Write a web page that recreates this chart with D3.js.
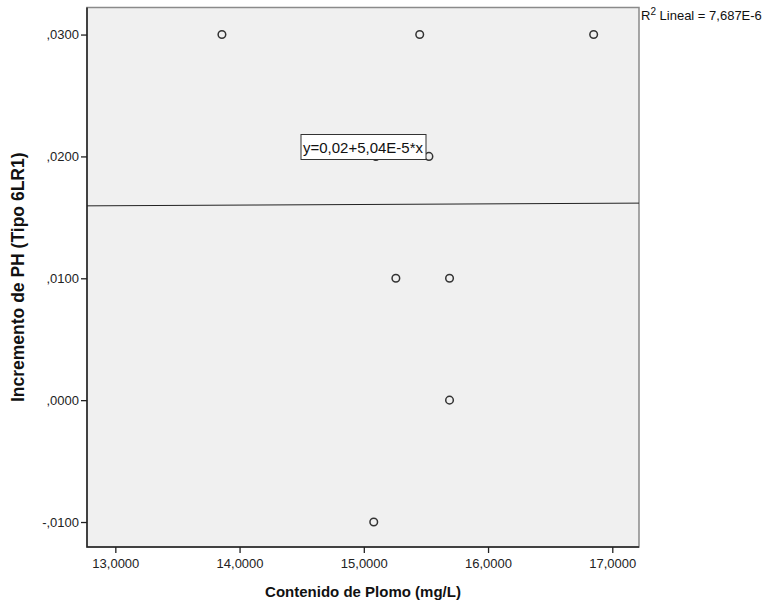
<!DOCTYPE html>
<html>
<head>
<meta charset="utf-8">
<script src="https://cdn.jsdelivr.net/npm/d3@7"></script>
<style>
  body { margin: 0; background: #fff; }
  text { font-family: Arial, "Liberation Sans", sans-serif; }
</style>
</head>
<body>
<svg id="chart" width="764" height="603"></svg>
<script>
const plomo = [13.858, 15.45, 16.85, 15.097, 15.524, 15.258, 15.69, 15.69, 15.08];
const incremento = [0.03, 0.03, 0.03, 0.02, 0.02, 0.01, 0.01, 0.0, -0.01];
const xTicks = [13, 14, 15, 16, 17];
const yTicks = [-0.01, 0, 0.01, 0.02, 0.03];
const fitIntercept = 0.0153;
const fitSlope = 5.04e-5;
const fitLabel = 'y=0,02+5,04E-5*x';
const r2Label = ' Lineal = 7,687E-6';

const svg = d3.select('#chart');
const plotLeft = 87, plotRight = 639, plotTop = 7.5, plotBottom = 547;

const x = d3.scaleLinear().domain([12.772, 17.215]).range([plotLeft, plotRight]);
const y = d3.scaleLinear().domain([-0.01205, 0.03222]).range([plotBottom, plotTop]);

const fmtX = d => d.toFixed(4).replace('.', ',');
const fmtY = d => d.toFixed(4).replace('.', ',').replace(/^(-?)0,/, '$1,');

svg.append('rect')
    .attr('x', plotLeft).attr('y', plotTop)
    .attr('width', plotRight - plotLeft).attr('height', plotBottom - plotTop)
    .attr('fill', '#f0f0f0')
    .attr('stroke', '#8a8a8a').attr('stroke-width', 1.5);

// darker left/bottom axis lines
svg.append('path')
    .attr('d', `M${plotLeft} ${plotTop} V${plotBottom} H${plotRight}`)
    .attr('fill', 'none').attr('stroke', '#222').attr('stroke-width', 1.5);

const gx = svg.append('g').attr('transform', `translate(0,${plotBottom})`)
    .call(d3.axisBottom(x).tickValues(xTicks).tickFormat(fmtX).tickSize(6).tickPadding(6));
const gy = svg.append('g').attr('transform', `translate(${plotLeft},0)`)
    .call(d3.axisLeft(y).tickValues(yTicks).tickFormat(fmtY).tickSize(6).tickPadding(2));
[gx, gy].forEach(g => {
    g.select('.domain').remove();
    g.selectAll('.tick line').attr('stroke', '#222').attr('stroke-width', 1.3);
    g.selectAll('.tick text').attr('fill', '#222').style('font-size', '13px')
        .style('font-family', 'Arial, "Liberation Sans", sans-serif');
});

// regression line
const x0 = x.domain()[0], x1 = x.domain()[1];
svg.append('line')
    .attr('x1', x(x0)).attr('y1', y(fitIntercept + fitSlope * x0))
    .attr('x2', x(x1)).attr('y2', y(fitIntercept + fitSlope * x1))
    .attr('stroke', '#222').attr('stroke-width', 1);

// points
svg.append('g').selectAll('circle')
    .data(plomo.map((p, i) => ({ p, v: incremento[i] })))
    .join('circle')
    .attr('cx', d => x(d.p)).attr('cy', d => y(d.v)).attr('r', 3.8)
    .attr('fill', 'none').attr('stroke', '#333').attr('stroke-width', 1.5);

// equation label box
const lab = svg.append('g').attr('transform', 'translate(301,134.5)');
lab.append('rect').attr('width', 125).attr('height', 25)
    .attr('fill', '#fff').attr('stroke', '#333').attr('stroke-width', 1);
lab.append('text').attr('x', 2).attr('y', 18)
    .attr('textLength', 120).attr('lengthAdjust', 'spacingAndGlyphs')
    .style('font-size', '14.5px').attr('fill', '#111').text(fitLabel);

// R2 legend
const r2 = svg.append('text').attr('x', 641).attr('y', 20)
    .style('font-size', '13px').attr('fill', '#111');
r2.append('tspan').text('R');
r2.append('tspan').attr('dy', -5).style('font-size', '10px').text('2');
r2.append('tspan').attr('dy', 5).text(r2Label);

// axis titles
svg.append('text').attr('x', (plotLeft + plotRight) / 2).attr('y', 597)
    .attr('text-anchor', 'middle').style('font-size', '15px').style('font-weight', 'bold')
    .attr('fill', '#111').text('Contenido de Plomo (mg/L)');
svg.append('text')
    .attr('transform', `translate(24,${(plotTop + plotBottom) / 2}) rotate(-90)`)
    .attr('text-anchor', 'middle').style('font-size', '17.5px').style('font-weight', 'bold')
    .attr('fill', '#111').text('Incremento de PH (Tipo 6LR1)');
</script>
</body>
</html>
